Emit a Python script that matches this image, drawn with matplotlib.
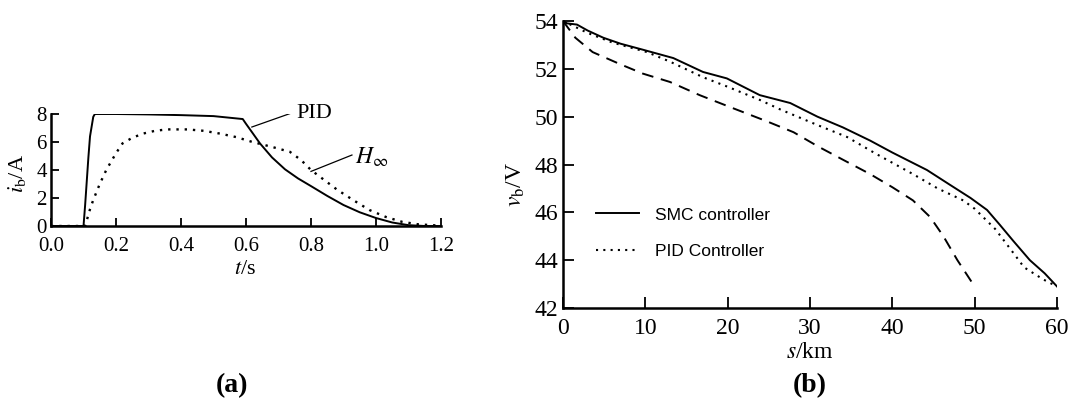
import matplotlib
matplotlib.use("Agg")
import matplotlib.pyplot as plt

plt.rcParams["font.family"] = ["Liberation Serif", "DejaVu Serif"]
plt.rcParams["mathtext.fontset"] = "stix"

# (a) battery current
t_pid = [0, 0.1, 0.105, 0.11, 0.115, 0.12, 0.13, 0.135, 0.2, 0.3, 0.4, 0.5, 0.59,
         0.6, 0.62, 0.643, 0.68, 0.72, 0.76, 0.8, 0.85, 0.9, 0.95, 1.0, 1.05, 1.1, 1.15, 1.2]
i_pid = [0, 0, 1.5, 3.2, 4.9, 6.4, 7.8, 8.0, 8.0, 7.97, 7.92, 7.85, 7.64,
         7.3, 6.65, 5.9, 4.9, 4.05, 3.4, 2.85, 2.15, 1.5, 0.98, 0.57, 0.25, 0.06, 0.0, 0.0]

t_hinf = [0, 0.1, 0.105, 0.12, 0.13, 0.15, 0.17, 0.2, 0.22, 0.25, 0.283, 0.32, 0.357,
          0.42, 0.47, 0.52, 0.57, 0.62, 0.68, 0.735, 0.77, 0.8, 0.84, 0.88, 0.93, 0.98,
          1.03, 1.08, 1.13, 1.18, 1.2]
i_hinf = [0, 0, 0, 1.2, 1.86, 3.0, 4.0, 5.2, 5.9, 6.3, 6.6, 6.8, 6.9,
          6.9, 6.8, 6.6, 6.35, 6.0, 5.65, 5.3, 4.7, 4.0, 3.3, 2.6, 1.85, 1.14,
          0.65, 0.3, 0.12, 0.05, 0.03]

# (b) battery voltage vs distance
s_smc = [0, 0.5, 1.7, 3, 4.9, 7, 9.7, 13.4, 17, 19.9, 23.9, 27.6, 30.9, 34, 37.3, 40,
         44.2, 47, 49.5, 51.5, 53, 54.7, 56.7, 58.5, 60]
v_smc = [54, 53.9, 53.85, 53.6, 53.3, 53.05, 52.8, 52.45, 51.87, 51.6, 50.9, 50.57, 50.0,
         49.55, 49.0, 48.5, 47.77, 47.15, 46.6, 46.1, 45.5, 44.8, 44.0, 43.45, 42.9]

s_pid = [0, 3, 6, 10.2, 13, 17, 20, 23.9, 26.4, 30.9, 34.5, 38, 42.5, 45.5, 48.6, 50,
         52.5, 54.7, 56, 58.3, 60]
v_pid = [54, 53.5, 53.1, 52.7, 52.3, 51.65, 51.25, 50.7, 50.3, 49.65, 49.15, 48.45, 47.6,
         47.0, 46.5, 46.15, 45.3, 44.3, 43.7, 43.2, 42.9]

s_dash = [0, 1.5, 3.6, 6.9, 9.7, 13, 16.6, 20.6, 24.8, 28, 31, 34, 37.3, 40, 42.5, 44.6,
          46.2, 47.9, 49.8]
v_dash = [54, 53.3, 52.7, 52.2, 51.8, 51.45, 50.9, 50.36, 49.8, 49.35, 48.75, 48.2, 47.6,
          47.05, 46.5, 45.8, 45.0, 44.0, 43.0]

fig = plt.figure(figsize=(10.74, 4.03), dpi=100)

# ---- panel (a)
ax1 = fig.add_axes([0.0475, 0.4392, 0.3631, 0.2779])
ax1.plot(t_pid, i_pid, color="black", lw=1.4)
ax1.plot(t_hinf, i_hinf, color="black", lw=1.7, ls=(0, (1, 2.5)))
ax1.set_xlim(0, 1.2)
ax1.set_ylim(0, 8)
ax1.set_xticks([0.0, 0.2, 0.4, 0.6, 0.8, 1.0, 1.2])
ax1.set_xticklabels(["0.0", "0.2", "0.4", "0.6", "0.8", "1.0", "1.2"])
ax1.set_yticks([0, 2, 4, 6, 8])
for sp in ["top", "right"]:
    ax1.spines[sp].set_visible(False)
for sp in ["left", "bottom"]:
    ax1.spines[sp].set_linewidth(1.8)
ax1.tick_params(direction="in", length=6, width=1.3, labelsize=15)
ax1.tick_params(axis="x", pad=8)
ax1.tick_params(axis="y", pad=3)
ax1.set_ylabel(r"$i_{\rm b}$/A", fontsize=16)
ax1.yaxis.set_label_coords(-0.058, 0.47)
ax1.plot([0.618, 0.74], [7.07, 8.07], color="black", lw=0.9)
ax1.text(0.755, 8.05, "PID", fontsize=16, va="center", ha="left")
ax1.plot([0.80, 0.926], [3.9, 5.07], color="black", lw=0.9)
ax1.text(0.935, 4.9, r"$H_\infty$", fontsize=17, va="center", ha="left")
fig.text(245 / 1074, 1 - 269 / 403, r"$t$/s", fontsize=16, ha="center", va="center")

# ---- panel (b)
ax2 = fig.add_axes([0.5242, 0.2357, 0.46, 0.7122])
ax2.plot(s_smc, v_smc, color="black", lw=1.4, label="SMC controller")
ax2.plot(s_pid, v_pid, color="black", lw=1.5, ls=(0, (1, 2.5)), label="PID Controller")
ax2.plot(s_dash, v_dash, color="black", lw=1.4, ls=(0, (6, 4)))
ax2.set_xlim(0, 60)
ax2.set_ylim(42, 54)
ax2.set_xticks(range(0, 61, 10))
ax2.set_yticks(range(42, 55, 2))
for sp in ["top", "right"]:
    ax2.spines[sp].set_visible(False)
for sp in ["left", "bottom"]:
    ax2.spines[sp].set_linewidth(1.8)
ax2.tick_params(direction="in", length=8, width=1.3, labelsize=17)
ax2.tick_params(axis="x", pad=7)
ax2.set_ylabel(r"$v_{\rm b}$/V", fontsize=17)
ax2.yaxis.set_label_coords(-0.073, 0.43)
ax2.legend(loc="upper left", bbox_to_anchor=(0.035, 0.405), frameon=False,
           handlelength=2.5, handletextpad=0.9, labelspacing=1.25,
           prop={"family": ["Liberation Sans Narrow", "Liberation Sans", "DejaVu Sans"],
                 "size": 12.5})
fig.text(810 / 1074, 1 - 352 / 403, r"$s$/km", fontsize=17, ha="center", va="center")

fig.text(232 / 1074, 1 - 386 / 403, "(a)", fontsize=20, fontweight="bold",
         ha="center", va="center")
fig.text(810 / 1074, 1 - 386 / 403, "(b)", fontsize=20, fontweight="bold",
         ha="center", va="center")

fig.savefig("out.png", dpi=100)
